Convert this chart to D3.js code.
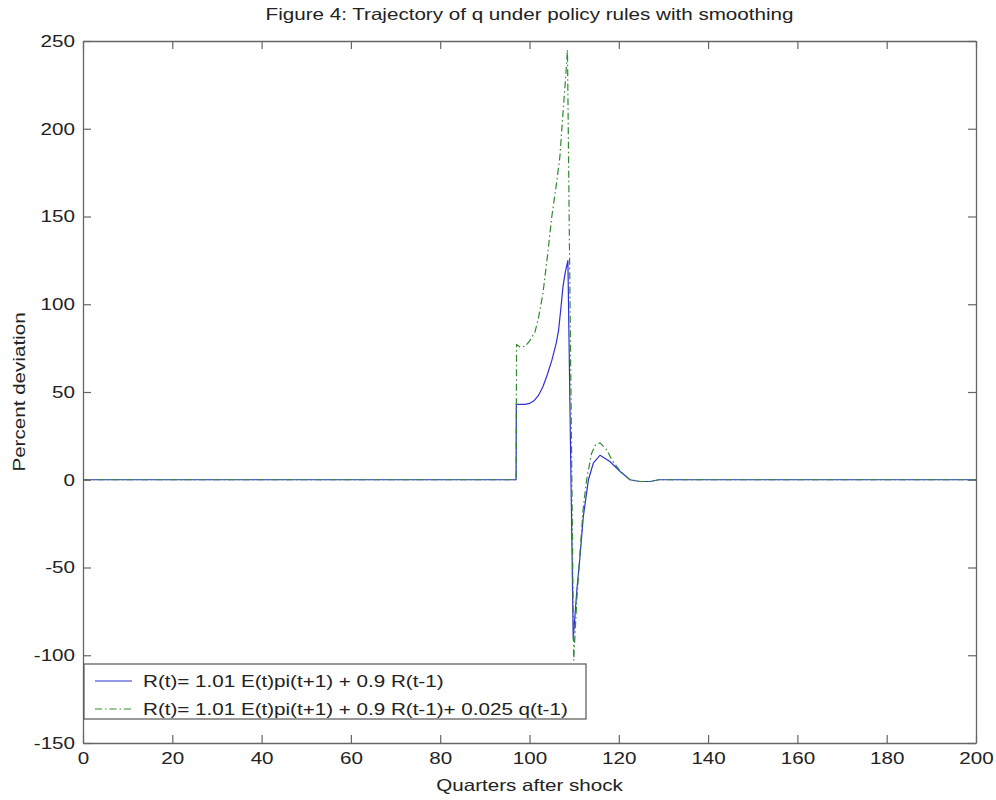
<!DOCTYPE html>
<html>
<head>
<meta charset="utf-8">
<script src="https://cdn.jsdelivr.net/npm/d3@7"></script>
<style>
  body { margin: 0; background: #fff; }
  text { font-family: "Liberation Sans", Arial, sans-serif; fill: #222; }
</style>
</head>
<body>
<script>
// quarters after shock and percent deviation
const blueT = [0, 97, 97.05, 98, 99, 100, 101, 102, 103, 104, 105, 106, 106.5, 107, 107.5, 108, 108.6,
               109.8, 110.6, 111.3, 112.05, 113.2, 114.3, 115.8, 118, 120.3, 122.5, 124.7, 127, 129, 200];
const blueQ = [0, 0, 43, 43, 43, 43.5, 45, 48, 53, 60, 68, 78, 85, 97, 110, 118, 125,
               -91, -63, -44, -21, 0, 9.5, 14, 10.4, 4.7, 0, -1, -1, 0, 0];

const greenT = [0, 97, 97.1, 98, 99, 100, 101.2, 102, 103, 104, 105, 106, 106.8, 107.5, 108, 108.5,
                109.9, 110.6, 111.3, 112, 112.8, 113.9, 114.8, 115.8, 117.3, 118.5, 120.3, 122.5, 124.7, 127, 129, 200];
const greenQ = [0, 0, 77, 75.5, 76, 79, 84, 92, 106, 127, 150, 168, 184, 209, 226, 245,
                -103, -68, -42, -17, 0, 15, 20, 21, 17, 11, 5, 0, -1, -1, 0, 0];

const xTicks = [0, 20, 40, 60, 80, 100, 120, 140, 160, 180, 200];
const yTicks = [-150, -100, -50, 0, 50, 100, 150, 200, 250];

const legendLabels = [
  "R(t)= 1.01 E(t)pi(t+1) + 0.9 R(t-1)",
  "R(t)= 1.01 E(t)pi(t+1) + 0.9 R(t-1)+ 0.025 q(t-1)"
];

const width = 996, height = 800;
const plotL = 83, plotR = 976, plotT = 41, plotB = 743;
const FS = 16.5;     // font size
const SX = 1.25;     // the scan is stretched sideways

const blueColor = "#2f2fd6";
const greenColor = "#2e8b2e";
const dashDot = "7,3,1.5,3";

const svg = d3.select("body").append("svg")
    .attr("width", width)
    .attr("height", height)
    .style("font-size", FS + "px");

const x = d3.scaleLinear().domain([0, 200]).range([plotL, plotR]);
const y = d3.scaleLinear().domain([-150, 250]).range([plotB, plotT]);

// stretch a text sideways, keeping whatever transform it already has
function stretch(sel) {
  sel.attr("transform", function() {
    const prev = this.getAttribute("transform") || "";
    return prev + " scale(" + SX + ",1)";
  });
}

// plain hyphen for negatives, like the original
const plainFmt = d => String(d);

// data lines
const line = d3.line()
    .x(d => x(d[0]))
    .y(d => y(d[1]));

svg.append("path")
    .datum(blueT.map((t, i) => [t, blueQ[i]]))
    .attr("fill", "none")
    .attr("stroke", blueColor)
    .attr("stroke-width", 1.2)
    .attr("d", line);

svg.append("path")
    .datum(greenT.map((t, i) => [t, greenQ[i]]))
    .attr("fill", "none")
    .attr("stroke", greenColor)
    .attr("stroke-width", 1.2)
    .attr("stroke-dasharray", dashDot)
    .attr("d", line);

// axes, ticks pointing inward like matlab
function styleAxis(g) {
  g.selectAll("path.domain").attr("stroke", "#666").attr("stroke-width", 1.3);
  g.selectAll(".tick line").attr("stroke", "#666").attr("stroke-width", 1.2);
  g.selectAll(".tick text").attr("fill", "#222").style("font-size", FS + "px")
    .style("font-family", '"Liberation Sans", Arial, sans-serif');
}

const gx = svg.append("g")
    .attr("transform", `translate(0,${plotB})`)
    .call(d3.axisBottom(x).tickValues(xTicks).tickFormat(plainFmt)
      .tickSizeInner(-8).tickSizeOuter(0).tickPadding(9))
    .call(styleAxis);
gx.selectAll(".tick text").call(stretch);

svg.append("g")
    .attr("transform", `translate(0,${plotT})`)
    .call(d3.axisTop(x).tickValues(xTicks).tickSizeInner(-8).tickSizeOuter(0).tickFormat(""))
    .call(styleAxis);

const gy = svg.append("g")
    .attr("transform", `translate(${plotL},0)`)
    .call(d3.axisLeft(y).tickValues(yTicks).tickFormat(plainFmt)
      .tickSizeInner(-8).tickSizeOuter(0).tickPadding(8 / SX))
    .call(styleAxis);
gy.selectAll(".tick text").call(stretch);

svg.append("g")
    .attr("transform", `translate(${plotR},0)`)
    .call(d3.axisRight(y).tickValues(yTicks).tickSizeInner(-8).tickSizeOuter(0).tickFormat(""))
    .call(styleAxis);

// title and axis labels
svg.append("text")
    .attr("transform", `translate(${(plotL + plotR) / 2},20)`)
    .attr("text-anchor", "middle")
    .text("Figure 4: Trajectory of q under policy rules with smoothing")
    .call(stretch);

svg.append("text")
    .attr("transform", `translate(${(plotL + plotR) / 2},791)`)
    .attr("text-anchor", "middle")
    .text("Quarters after shock")
    .call(stretch);

svg.append("text")
    .attr("transform", `translate(25,${(plotT + plotB) / 2}) rotate(-90)`)
    .attr("text-anchor", "middle")
    .text("Percent deviation")
    .call(stretch);

// legend
const legend = svg.append("g");
legend.append("rect")
    .attr("x", 84).attr("y", 664)
    .attr("width", 502).attr("height", 55)
    .attr("fill", "#fff")
    .attr("stroke", "#555")
    .attr("stroke-width", 1.2);

const items = [
  { label: legendLabels[0], color: blueColor, dash: null },
  { label: legendLabels[1], color: greenColor, dash: dashDot }
];

items.forEach((it, i) => {
  const ly = 681 + i * 28;
  legend.append("line")
      .attr("x1", 95).attr("x2", 132)
      .attr("y1", ly).attr("y2", ly)
      .attr("stroke", it.color)
      .attr("stroke-width", 1.2)
      .attr("stroke-dasharray", it.dash);
  legend.append("text")
      .attr("transform", `translate(143,${ly + 6})`)
      .text(it.label)
      .call(stretch);
});
</script>
</body>
</html>
